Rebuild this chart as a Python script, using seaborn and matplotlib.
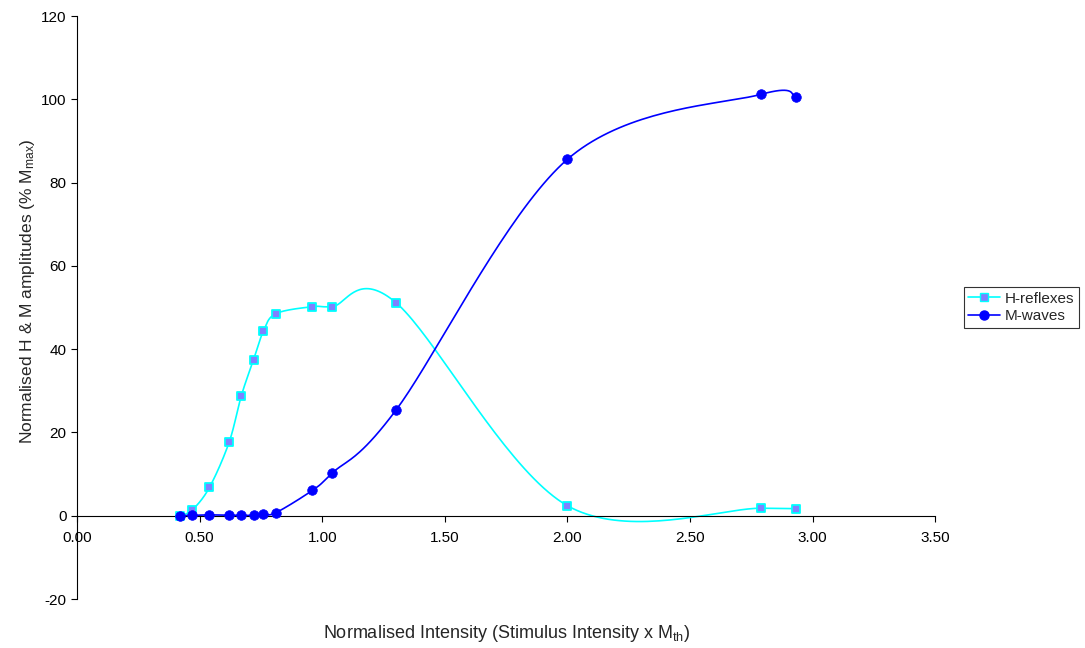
import numpy as np
import matplotlib
matplotlib.use('Agg')
import matplotlib.pyplot as plt
from matplotlib.lines import Line2D
import pandas as pd
import seaborn as sns

# values
intensity = [0.42, 0.47, 0.54, 0.62, 0.67, 0.72, 0.76, 0.81, 0.96, 1.04, 1.30, 2.00, 2.79, 2.93]
h_reflex = [0.0, 1.4, 6.8, 17.6, 28.8, 37.5, 44.3, 48.5, 50.2, 50.2, 51.2, 2.4, 1.8, 1.7]
m_wave = [0.0, 0.1, 0.2, 0.1, 0.1, 0.1, 0.4, 0.7, 6.1, 10.2, 25.3, 85.6, 101.2, 100.5]

series_names = ['H-reflexes', 'M-waves']
line_colors = ['#00FFFF', '#0000FF']
h_face = '#8080FF'


def smooth_curve(x, y, n=40):
    # Excel-like smoothed line: bezier segments with catmull-rom control points
    pts = np.column_stack([x, y]).astype(float)
    out = []
    for i in range(len(pts) - 1):
        p0 = pts[i - 1] if i > 0 else pts[i]
        p1, p2 = pts[i], pts[i + 1]
        p3 = pts[i + 2] if i + 2 < len(pts) else pts[i + 1]
        c1 = p1 + (p2 - p0) / 6
        c2 = p2 - (p3 - p1) / 6
        t = np.linspace(0, 1, n)[:, None]
        seg = (1 - t) ** 3 * p1 + 3 * (1 - t) ** 2 * t * c1 + 3 * (1 - t) * t ** 2 * c2 + t ** 3 * p2
        out.append(seg if i == 0 else seg[1:])
    curve = np.vstack(out)
    return pd.DataFrame({'x': curve[:, 0], 'y': curve[:, 1]})


sns.set_style('white')
plt.rcParams['font.family'] = ['Liberation Sans', 'DejaVu Sans']
plt.rcParams['mathtext.fontset'] = 'custom'
plt.rcParams['mathtext.rm'] = 'Liberation Sans'
plt.rcParams['mathtext.it'] = 'Liberation Sans'
plt.rcParams['axes.unicode_minus'] = False

fig = plt.figure(figsize=(10.85, 6.48), dpi=100)
ax = fig.add_axes([0.071, 0.0756, 0.791, 0.8997])

h_curve = smooth_curve(intensity, h_reflex)
m_curve = smooth_curve(intensity, m_wave)
sns.lineplot(data=h_curve, x='x', y='y', sort=False, estimator=None,
             color=line_colors[0], lw=1.2, ax=ax)
sns.lineplot(data=m_curve, x='x', y='y', sort=False, estimator=None,
             color=line_colors[1], lw=1.2, ax=ax)

sns.scatterplot(x=intensity, y=h_reflex, marker='s', s=40, facecolor=h_face,
                edgecolor='#00FFFF', linewidth=1.3, ax=ax, zorder=3)
sns.scatterplot(x=intensity, y=m_wave, marker='o', s=48, facecolor='#0000FF',
                edgecolor='#0000FF', linewidth=0.5, ax=ax, zorder=4)

ax.set_xlim(0, 3.5)
ax.set_ylim(-20, 120)
ax.set_xticks(np.arange(0, 3.51, 0.5))
ax.set_yticks(np.arange(-20, 121, 20))
ax.xaxis.set_major_formatter(matplotlib.ticker.FormatStrFormatter('%.2f'))

for side in ['top', 'right']:
    ax.spines[side].set_visible(False)
ax.spines['bottom'].set_position(('data', 0))
for side in ['left', 'bottom']:
    ax.spines[side].set_color('black')
    ax.spines[side].set_linewidth(0.8)
ax.tick_params(axis='both', direction='out', length=4, width=0.8, colors='black',
               labelsize=11, left=True, bottom=True)
ax.tick_params(axis='x', pad=7)

ax.set_xlabel(r'Normalised Intensity (Stimulus Intensity x M$_{\mathrm{th}}$)', fontsize=13)
ax.set_ylabel(r'Normalised H & M amplitudes (% M$_{\mathrm{max}}$)', fontsize=12.5)
ax.xaxis.set_label_coords(0.5, -0.041)
ax.yaxis.set_label_coords(-0.047, 0.528)

handles = [
    Line2D([], [], color=line_colors[0], marker='s', markersize=6,
           markerfacecolor=h_face, markeredgecolor='#00FFFF', lw=1.2),
    Line2D([], [], color=line_colors[1], marker='o', markersize=6.5,
           markerfacecolor='#0000FF', markeredgecolor='#0000FF', lw=1.2),
]
leg = ax.legend(handles, series_names, loc='center left', bbox_to_anchor=(1.033, 0.5),
                frameon=True, fancybox=False, shadow=False, fontsize=11,
                handlelength=2.1, borderpad=0.3, labelspacing=0.25, handletextpad=0.3,
                borderaxespad=0)
leg.get_frame().set_edgecolor('black')
leg.get_frame().set_linewidth(0.8)

fig.savefig('out.png', dpi=100)
